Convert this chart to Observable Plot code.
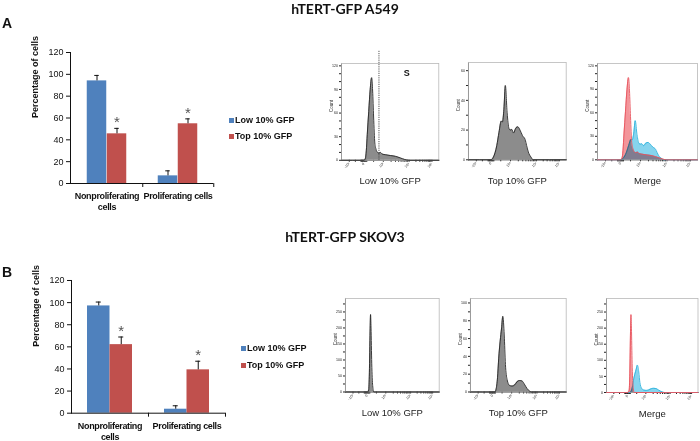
<!DOCTYPE html>
<html><head><meta charset="utf-8">
<script src="https://cdn.jsdelivr.net/npm/d3@7"></script>
<script src="https://cdn.jsdelivr.net/npm/@observablehq/plot@0.6"></script>
<style>
body{margin:0;background:#fff}
#root{position:relative;width:700px;height:441px;overflow:hidden;background:#fff;font-family:"Liberation Sans",Arial,sans-serif}
.abs{position:absolute}
.title{font-family:Lato,"Open Sans",sans-serif;font-weight:700;font-size:14px;width:200px;text-align:center;line-height:16px;color:#111}
.panel{font-weight:700;font-size:14px;line-height:16px;color:#111}
.leg{font-weight:700;font-size:9px;line-height:10px;display:flex;align-items:center;white-space:nowrap;color:#111}
.sw{width:5px;height:5px;margin-right:1px}
</style></head>
<body><div id="root"></div>
<script>
// ---------- bar chart data ----------
const categories = ["Nonproliferating\ncells", "Proliferating cells"];
const seriesNames = ["Low 10% GFP", "Top 10% GFP"];
const barTicks = [0, 20, 40, 60, 80, 100, 120];
const a549Low = [94, 7];
const a549LowErr = [5, 4.6];
const a549Top = [45.5, 54.7];
const a549TopErr = [5, 4.5];
const skovLow = [97, 3.6];
const skovLowErr = [3.5, 3.1];
const skovTop = [62, 39.2];
const skovTopErr = [6.9, 7.8];

// ---------- histogram data (x in display units of the logicle axis) ----------
const axisTickU = [-0.6, 0, 0.8, 1.86, 2.8];
const axisTickLabels = ["-10³", "0", "10³", "10⁴", "10⁵"];
const axisMinorU = [-0.35, -0.12, -0.09, -0.06, -0.03, 0.03, 0.06, 0.09, 0.12, 0.4, 1.12, 1.3, 1.43, 1.53, 1.61, 1.68, 1.74, 1.8, 2.14, 2.3, 2.42, 2.51, 2.59, 2.65, 2.7, 2.75];
const uDomain = [-0.92, 3.08];

const a549LowU = [-0.92, 0.0, 0.06, 0.1, 0.14, 0.2, 0.26, 0.32, 0.36, 0.4, 0.45, 0.5, 0.56, 0.62, 0.68, 0.75, 0.9, 1.1, 1.3, 1.5, 1.68, 1.85, 3.08];
const a549LowCount = [0, 0, 2, 12, 33, 62, 90, 105, 88, 55, 22, 14, 10, 9, 10, 8, 7, 6, 5, 3, 1, 0, 0];
const a549TopU = [-0.92, 0.0, 0.1, 0.24, 0.33, 0.42, 0.47, 0.53, 0.59, 0.66, 0.74, 0.8, 0.85, 0.92, 1.02, 1.1, 1.19, 1.29, 1.4, 1.46, 1.53, 1.64, 1.73, 3.08];
const a549TopCount = [0, 0, 1.7, 9.6, 18.5, 26, 25.5, 34, 50, 32, 21, 20, 20.5, 18, 21.3, 22.2, 20, 16.3, 13.6, 9.6, 5.2, 1.8, 0, 0];
const skovLowU = [-0.92, 0.02, 0.07, 0.1, 0.13, 0.15, 0.17, 0.2, 0.24, 0.29, 3.08];
const skovLowCount = [0, 0, 6, 60, 190, 242, 200, 90, 20, 0, 0];
const skovTopU = [-0.92, 0.1, 0.15, 0.21, 0.26, 0.32, 0.38, 0.43, 0.49, 0.54, 0.61, 0.71, 0.82, 0.93, 1.03, 1.13, 1.24, 1.35, 1.45, 1.55, 1.63, 3.08];
const skovTopCount = [0, 0, 3, 16, 38, 57, 72, 85, 64, 31, 14, 7.4, 6.6, 8, 11.5, 12.9, 12.3, 8, 3.7, 1, 0, 0];

const root = document.getElementById("root");
function place(node, left, top, w, h) {
  const d = document.createElement("div");
  d.className = "abs";
  d.style.left = left + "px"; d.style.top = top + "px";
  if (w) { d.style.width = w + "px"; d.style.height = h + "px"; }
  d.appendChild(node);
  root.appendChild(d);
  return d;
}
function html(cls, text, left, top) {
  const d = document.createElement("div");
  d.className = "abs " + cls; d.textContent = text;
  d.style.left = left + "px"; d.style.top = top + "px";
  root.appendChild(d);
}

// ---------- bar charts ----------
function barChart({left, right, y120, y0, bw, low, lowErr, top, topErr, svgTop}) {
  const mL = left, mR = 10, mT = y120 - svgTop, mB = 30;
  const H = mT + (y0 - y120) + mB, W = right + mR;
  const band = (right - left) / categories.length;
  const cap = 5;
  const rows = categories.map((c, i) => ({cat: c, low: low[i], lowErr: lowErr[i], top: top[i], topErr: topErr[i]}));
  const tickLen = -4 * 120 / (y0 - y120);
  const p = Plot.plot({
    width: W, height: H, marginLeft: mL, marginRight: mR, marginTop: mT, marginBottom: mB,
    style: {background: "transparent", overflow: "visible", fontSize: "9px", fontFamily: "'Liberation Sans', Arial, sans-serif", color: "#111"},
    x: {domain: categories, padding: 0, axis: null},
    y: {domain: [0, 120], ticks: barTicks, tickSize: 4, tickPadding: 3, line: true, label: null},
    marks: [
      Plot.barY(rows, {x: "cat", y: "low", fill: "#4f81bd", insetLeft: band / 2 - bw, insetRight: band / 2}),
      Plot.barY(rows, {x: "cat", y: "top", fill: "#c0504d", insetLeft: band / 2, insetRight: band / 2 - bw}),
      Plot.ruleX(rows, {x: "cat", y1: "low", y2: d => d.low + d.lowErr, dx: -bw / 2, stroke: "#111", strokeWidth: 1}),
      Plot.ruleX(rows, {x: "cat", y1: "top", y2: d => d.top + d.topErr, dx: bw / 2, stroke: "#111", strokeWidth: 1}),
      Plot.tickY(rows, {x: "cat", y: d => d.low + d.lowErr, insetLeft: band / 2 - bw / 2 - cap / 2, insetRight: band / 2 + bw / 2 - cap / 2, stroke: "#111"}),
      Plot.tickY(rows, {x: "cat", y: d => d.top + d.topErr, insetLeft: band / 2 + bw / 2 - cap / 2, insetRight: band / 2 - bw / 2 - cap / 2, stroke: "#111"}),
      Plot.text(rows, {x: "cat", y: d => d.top + d.topErr, text: () => "*", dx: bw / 2, dy: -6, fontSize: 15, fill: "#555"}),
      Plot.ruleY([0], {stroke: "#111"}),
      Plot.ruleX(rows, {x: "cat", dx: band / 2, y1: 0, y2: tickLen, stroke: "#111"}),
      Plot.text(rows, {x: "cat", text: "cat", frameAnchor: "bottom", lineAnchor: "top", dy: 8, fontWeight: "bold", fontSize: 9, lineHeight: 1.2, fill: "#111"}),
      Plot.text(["Percentage of cells"], {text: d => d, frameAnchor: "left", rotate: -90, dx: -35, fontWeight: "bold", fontSize: 9, fill: "#111"})
    ]
  });
  p.querySelectorAll("text").forEach(t => {
    if (/roliferating/.test(t.textContent)) t.style.letterSpacing = "-0.35px";
  });
  place(p, 0, svgTop, W, H);
}

barChart({left: 70, right: 213, y120: 52, y0: 183, bw: 20, low: a549Low, lowErr: a549LowErr, top: a549Top, topErr: a549TopErr, svgTop: 40});
barChart({left: 71, right: 225, y120: 280, y0: 412.7, bw: 22.5, low: skovLow, lowErr: skovLowErr, top: skovTop, topErr: skovTopErr, svgTop: 268});

// ---------- legends ----------
function legend(left, topRow, gap) {
  const colors = ["#4f81bd", "#c0504d"];
  seriesNames.forEach((s, i) => {
    const d = document.createElement("div");
    d.className = "abs leg";
    d.style.left = left + "px"; d.style.top = (topRow + i * gap) + "px";
    const sw = document.createElement("span"); sw.className = "sw"; sw.style.background = colors[i];
    const t = document.createElement("span"); t.textContent = s;
    d.appendChild(sw); d.appendChild(t);
    root.appendChild(d);
  });
}
legend(229, 115, 16);
legend(241, 343, 17);

// ---------- titles ----------
html("title", "hTERT-GFP A549", 245, 1);
html("title", "hTERT-GFP SKOV3", 245, 229);
html("panel", "A", 2, 15);
html("panel", "B", 2, 264);

// ---------- histograms ----------
const gray = (u, c) => ({u, c, fill: "#8c8c8c", stroke: "#262626"});
const red = (u, c) => ({u, c, fill: "#f3959a", stroke: "#e8525c", blend: true});
const cyan = (u, c) => ({u, c, fill: "#86d4ee", stroke: "#2fb3dc"});

const panels = [
  {left: 340.7, right: 438, top: 62.5, bottom: 159.3, yMax: 123, yMajor: [0, 30, 60, 90, 120], yMinor: [10, 20, 40, 50, 70, 80, 100, 110], label: "Low 10% GFP", series: [gray(a549LowU, a549LowCount)], gate: 0.62, gateTop: 139, sLabel: {u: 1.76, c: 111}},
  {left: 468.3, right: 566, top: 62, bottom: 159.3, yMax: 65.5, yMajor: [0, 20, 40, 60], yMinor: [10, 30, 50], label: "Top 10% GFP", series: [gray(a549TopU, a549TopCount)]},
  {left: 597, right: 697, top: 62.5, bottom: 158.8, yMax: 123, yMajor: [0, 30, 60, 90, 120], yMinor: [10, 20, 40, 50, 70, 80, 100, 110], label: "Merge", series: [cyan(a549TopU, a549TopCount), red(a549LowU, a549LowCount)]},
  {left: 344.5, right: 438.2, top: 297.5, bottom: 391, yMax: 292, yMajor: [0, 50, 100, 150, 200, 250], yMinor: [25, 75, 125, 175, 225, 275], label: "Low 10% GFP", series: [gray(skovLowU, skovLowCount)]},
  {left: 470, right: 565.7, top: 297.5, bottom: 391, yMax: 105, yMajor: [0, 20, 40, 60, 80, 100], yMinor: [10, 30, 50, 70, 90], label: "Top 10% GFP", series: [gray(skovTopU, skovTopCount)]},
  {left: 606, right: 697.5, top: 297.5, bottom: 391.5, yMax: 292, yMajor: [0, 50, 100, 150, 200, 250], yMinor: [25, 75, 125, 175, 225, 275], label: "Merge", series: [cyan(skovTopU, skovTopCount), red(skovLowU, skovLowCount)]}
];

for (const sp of panels) {
  const mL = 30, mR = 6, mT = 16, mB = 36;
  const w = sp.right - sp.left, h = sp.bottom - sp.top;
  const marks = [Plot.frame({stroke: "#b8b8b8", strokeWidth: 0.8})];
  for (const s of sp.series) {
    const data = s.u.map((u, i) => ({u, c: s.c[i]}));
    marks.push(Plot.areaY(data, {x: "u", y: "c", fill: s.fill, curve: "monotone-x"}));
    marks.push(Plot.lineY(data, {x: "u", y: "c", stroke: s.stroke, strokeWidth: 0.9, curve: "monotone-x"}));
  }
  if (sp.gate != null) {
    marks.push(Plot.ruleX([sp.gate], {y1: 0, y2: sp.gateTop, stroke: "#444", strokeWidth: 0.9, strokeDasharray: "1.2,1"}));
    marks.push(Plot.text([sp.sLabel], {x: "u", y: "c", text: () => "S", fontWeight: "bold", fontSize: 9, fill: "#111"}));
  }
  marks.push(Plot.text([sp.label], {text: d => d, frameAnchor: "bottom", dy: 24, fontSize: 9.5, fill: "#222"}));
  marks.push(Plot.text(["Count"], {text: d => d, frameAnchor: "left", rotate: -90, dx: -10, fontSize: 4.5, fill: "#333"}));
  const allX = axisTickU.concat(axisMinorU);
  const allY = sp.yMajor.concat(sp.yMinor);
  const p = Plot.plot({
    width: w + mL + mR, height: h + mT + mB, marginLeft: mL, marginRight: mR, marginTop: mT, marginBottom: mB,
    style: {background: "transparent", overflow: "visible", fontSize: "3.6px", fontFamily: "'Liberation Sans', Arial, sans-serif", color: "#222"},
    x: {domain: uDomain, ticks: allX, tickFormat: d => { const i = axisTickU.indexOf(d); return i >= 0 ? axisTickLabels[i] : ""; }, tickSize: 2, tickPadding: 1, tickRotate: -45, line: true, label: null},
    y: {domain: [0, sp.yMax], ticks: allY, tickFormat: d => sp.yMajor.includes(d) ? String(d) : "", tickSize: 2, tickPadding: 1.5, line: true, label: null},
    marks
  });
  for (const s of sp.series) {
    if (s.blend) p.querySelectorAll(`[fill="${s.fill}"]`).forEach(el => el.style.mixBlendMode = "multiply");
  }
  place(p, sp.left - mL, sp.top - mT, w + mL + mR, h + mT + mB);
}
</script>
</body></html>
